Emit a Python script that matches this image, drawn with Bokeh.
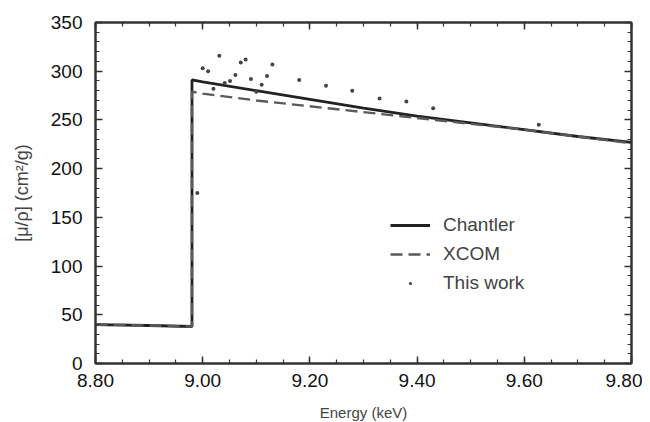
from bokeh.plotting import figure
from bokeh.models import (Range1d, LinearAxis, FixedTicker, NumeralTickFormatter, Legend,
                          LegendItem, CustomLabelingPolicy)
from bokeh.embed import file_html
from bokeh.resources import INLINE

# Chantler theory
chantler_e = [8.80, 8.90, 8.98, 8.98, 9.00, 9.10, 9.20, 9.30, 9.40, 9.50, 9.60, 9.70, 9.80]
chantler_mu = [40, 39, 38, 291, 289, 280, 271, 262, 254, 247, 240, 233, 227]

# XCOM theory
xcom_e = [8.80, 8.90, 8.98, 8.98, 9.00, 9.10, 9.20, 9.30, 9.40, 9.50, 9.60, 9.70, 9.80]
xcom_mu = [40, 39, 38, 279, 277, 270, 264, 258, 252, 246, 240, 233, 226]

# This work (measured)
work_e = [8.990, 9.000, 9.010, 9.020, 9.031, 9.041, 9.051, 9.061, 9.071, 9.080, 9.090,
          9.100, 9.110, 9.120, 9.130, 9.180, 9.230, 9.279, 9.330, 9.380, 9.430, 9.627]
work_mu = [175, 303, 300, 282, 316, 288, 290, 296, 309, 312, 292,
           279, 286, 295, 307, 291, 285, 280, 272, 269, 262, 245]

x_ticks = [8.80, 9.00, 9.20, 9.40, 9.60, 9.80]
x_minor = [round(8.80 + 0.05 * i, 2) for i in range(21)]
y_ticks = [0, 50, 100, 150, 200, 250, 300, 350]
y_minor = list(range(0, 351, 10))

FONT = "Liberation Sans"

p = figure(frame_width=536, frame_height=341, output_backend="svg", toolbar_location=None,
           x_range=Range1d(8.80, 9.80), y_range=Range1d(0, 350),
           min_border_left=95, min_border_top=22, min_border_right=11, min_border_bottom=50)
p.xaxis.visible = False
p.yaxis.visible = False
p.grid.visible = False
p.outline_line_color = "#333333"
p.outline_line_width = 2

c = p.line(chantler_e, chantler_mu, line_color="#222222", line_width=2.8)
x = p.line(xcom_e, xcom_mu, line_color="#5a5a5a", line_width=2.4, line_dash="12 6")
s = p.scatter(work_e, work_mu, size=4, fill_color="#444444", line_color=None)

no_labels = CustomLabelingPolicy(code="""
const n = indices.size;
try { for (let i = 0; i < n; i++) { indices.unset(i); } } catch (e) {}
return indices;
""")

bottom = LinearAxis(ticker=FixedTicker(ticks=x_ticks, minor_ticks=x_minor),
                    formatter=NumeralTickFormatter(format="0.00"),
                    axis_label="Energy (keV)")
left = LinearAxis(ticker=FixedTicker(ticks=y_ticks, minor_ticks=y_minor),
                  axis_label="[\u03bc/\u03c1] (cm\u00b2/g)")
top = LinearAxis(ticker=FixedTicker(ticks=x_ticks, minor_ticks=x_minor),
                 major_label_policy=no_labels)
right = LinearAxis(ticker=FixedTicker(ticks=y_ticks, minor_ticks=y_minor),
                   major_label_policy=no_labels)
p.add_layout(bottom, "below")
p.add_layout(left, "left")
p.add_layout(top, "above")
p.add_layout(right, "right")

for ax in [bottom, left, top, right]:
    ax.major_tick_in = 7
    ax.major_tick_out = 0
    ax.minor_tick_in = 4
    ax.minor_tick_out = 0
    ax.axis_line_color = "#333333"
    ax.axis_line_width = 2
    ax.major_tick_line_color = "#333333"
    ax.minor_tick_line_color = "#333333"
    ax.major_tick_line_width = 1.5
    ax.minor_tick_line_width = 1.2
    ax.major_label_text_font = FONT
    ax.major_label_text_color = "#111111"
    ax.major_label_text_font_size = "19px"
    ax.axis_label_text_font = FONT
    ax.axis_label_text_font_style = "normal"
    ax.axis_label_text_color = "#444444"

for ax in [top, right]:
    ax.major_label_text_alpha = 0

bottom.axis_label_text_font_size = "15px"
left.axis_label_text_font_size = "18px"
bottom.major_label_standoff = 10
bottom.axis_label_standoff = 14
left.major_label_standoff = 13
left.axis_label_standoff = 16

legend = Legend(items=[LegendItem(label="Chantler", renderers=[c]),
                       LegendItem(label="XCOM", renderers=[x]),
                       LegendItem(label="This work", renderers=[s])],
                location=(295, 69), glyph_width=40, glyph_height=8, label_height=20,
                spacing=7, label_standoff=13, label_text_font=FONT,
                label_text_font_size="19px", label_text_color="#444444",
                border_line_color=None, background_fill_alpha=0, padding=4, margin=0)
p.add_layout(legend, "center")

open("out.html", "w").write(file_html(p, INLINE))
